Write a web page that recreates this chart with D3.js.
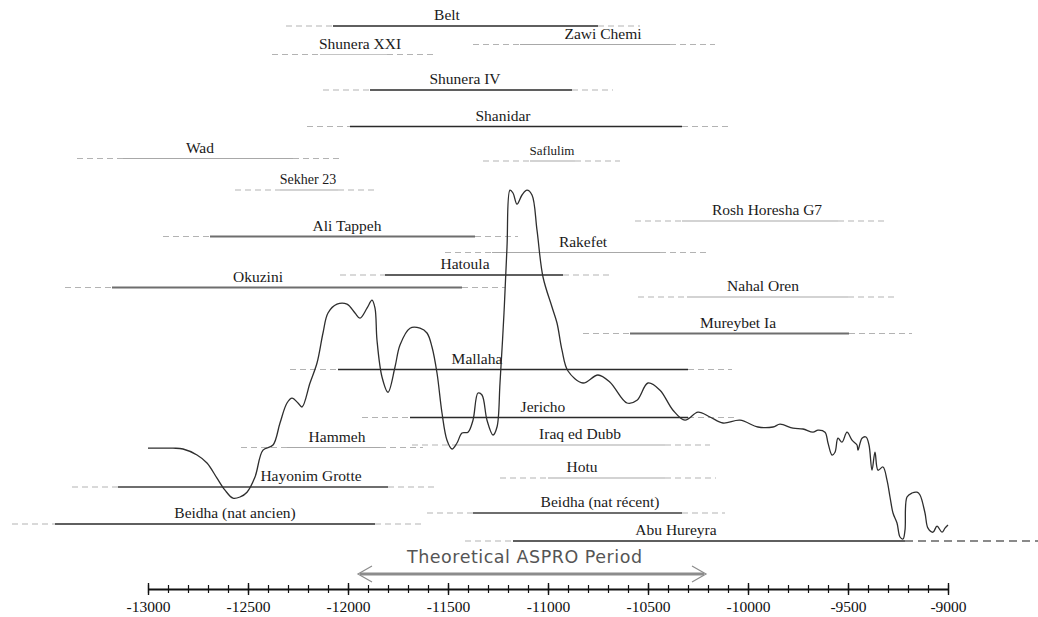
<!DOCTYPE html>
<html>
<head>
<meta charset="utf-8">
<script src="https://cdn.jsdelivr.net/npm/d3@7"></script>
<style>
  body { margin: 0; background: #fff; }
  .site-label { font-family: "Liberation Serif", "Times New Roman", serif; font-size: 15.5px; fill: #1a1a1a; }
  .period-label { font-family: "DejaVu Sans", sans-serif; font-size: 19px; fill: #555; }
</style>
</head>
<body>
<div id="chart"></div>
<script>
// Part 1: Data
// ==============================
// sites (years, negative = BC)
var siteNames = ["Belt", "Zawi Chemi", "Shunera XXI", "Shunera IV", "Shanidar", "Wad", "Saflulim",
  "Sekher 23", "Rosh Horesha G7", "Ali Tappeh", "Rakefet", "Hatoula", "Okuzini", "Nahal Oren",
  "Mureybet Ia", "Mallaha", "Jericho", "Iraq ed Dubb", "Hammeh", "Hotu", "Hayonim Grotte",
  "Beidha (nat récent)", "Beidha (nat ancien)", "Abu Hureyra"];
var outerStart = [-12310, -11375, -12380, -12125, -12205, -13355, -11325,
  -12565, -10565, -12925, -11515, -12040, -13415, -10550,
  -10825, -12290, -11930, -11680, -12535, -11240, -13380,
  -11605, -13680, -11415];
var innerStart = [-12075, -11140, -12140, -11890, -11990, -13125, -11090,
  -12340, -10330, -12690, -11280, -11815, -13180, -10305,
  -10590, -12050, -11690, -11455, -12305, -11000, -13150,
  -11375, -13465, -11175];
var innerEnd = [-10750, -10390, -11805, -10880, -10330, -12275, -10865,
  -12050, -9550, -11365, -10440, -10925, -11430, -9500,
  -9495, -10300, -10300, -10415, -11840, -10415, -11800,
  -10330, -11865, -9215];
var outerEnd = [-10540, -10165, -11565, -10675, -10100, -12040, -10640,
  -11850, -9315, -11150, -10205, -10690, -11215, -9265,
  -9180, -10080, -10065, -10190, -11625, -10160, -11565,
  -10115, -11630, -8550];

// climate curve (relative units)
var curveYears = [-13000, -12875, -12825, -12755, -12705, -12655, -12615, -12575, -12540, -12505,
  -12465, -12425, -12375, -12340, -12305, -12280, -12250, -12230, -12190, -12155,
  -12125, -12100, -12055, -12005, -11965, -11940, -11905, -11880, -11865, -11855,
  -11830, -11800, -11765, -11740, -11690, -11640, -11605, -11580, -11555, -11530,
  -11505, -11480, -11455, -11430, -11400, -11375, -11350, -11330, -11305, -11275,
  -11255, -11240, -11220, -11205, -11190, -11175, -11155, -11130, -11105, -11080,
  -11055, -11025, -10980, -10955, -10930, -10900, -10825, -10750, -10690, -10605,
  -10555, -10500, -10440, -10375, -10315, -10250, -10190, -10125, -10040, -9950,
  -9875, -9840, -9775, -9725, -9675, -9650, -9615, -9600, -9580, -9565,
  -9550, -9530, -9505, -9480, -9455, -9450, -9430, -9410, -9395, -9380,
  -9365, -9350, -9325, -9305, -9290, -9275, -9255, -9240, -9225, -9215,
  -9205, -9180, -9155, -9140, -9115, -9100, -9075, -9055, -9030, -9015, -9000];
var curveValues = [24.2, 24.2, 24, 22.5, 20.5, 16.7, 13.7, 11.7, 12, 13.2,
  17, 23.7, 25, 30.5, 35.5, 36.7, 35.5, 34.5, 40.5, 45.5,
  53, 58, 60.2, 60.2, 58, 56.7, 59.2, 61.2, 59.2, 51.2,
  42, 38.2, 44.5, 50, 54.2, 54.2, 53, 49.5, 43, 33,
  26.2, 24, 25.5, 28, 28.2, 31.2, 38, 37.5, 31.2, 27.5,
  29.5, 40.5, 58, 74.5, 88.7, 88, 85.2, 87.5, 88.7, 87.5,
  78.7, 67, 59.5, 55.5, 48.7, 43.5, 40.5, 42.5, 40.7, 35.5,
  36.2, 40.5, 38.7, 33.7, 31.2, 33.2, 32, 30.5, 31.2, 29.5,
  29.5, 30.2, 29.2, 29, 28.2, 28.7, 28.2, 25.5, 22.5, 23.2,
  26.7, 25.7, 28.2, 26.2, 25, 23.7, 26.7, 27, 25, 18.7,
  23.2, 18.7, 19.5, 16.2, 12, 8, 5.5, 2, 1.5, 3.7,
  12, 13, 13.2, 12.5, 8, 4.2, 3.2, 4.7, 3.2, 4.2, 5];

// theoretical period arrow
var periodStart = -11950;
var periodEnd = -10210;
var periodText = "Theoretical ASPRO Period";

// Part 2: Layout
// ==============================
var svgWidth = 1038;
var svgHeight = 617;

// vertical lane of each site, and year above which its name is written
var siteRow = [0.6, 2.45, 3.45, 7, 10.65, 13.85, 14.1,
  17, 20.1, 21.65, 23.25, 25.5, 26.75, 27.7,
  31.35, 34.95, 39.75, 42.5, 42.75, 45.8, 46.7,
  49.3, 50.4, 52.1];
var labelYear = [-11505, -10725, -11940, -11415, -11225, -12740, -10980,
  -12200, -9905, -12005, -10825, -11415, -12450, -9925,
  -10050, -11355, -11025, -10840, -12055, -10830, -12185,
  -10740, -12565, -10360];

// line tone per site
var tones = {
  dark: { stroke: "#2a2a2a", width: 1.3 },
  mid: { stroke: "#6e6e6e", width: 2 },
  light: { stroke: "#a8a8a8", width: 1.1 },
  faint: { stroke: "#c4c4c4", width: 1 }
};
var toneBySite = {
  "Belt": "dark", "Zawi Chemi": "light", "Shunera XXI": "faint", "Shunera IV": "dark",
  "Shanidar": "dark", "Wad": "light", "Saflulim": "light", "Sekher 23": "light",
  "Rosh Horesha G7": "light", "Ali Tappeh": "mid", "Rakefet": "light", "Hatoula": "dark",
  "Okuzini": "mid", "Nahal Oren": "light", "Mureybet Ia": "mid", "Mallaha": "dark",
  "Jericho": "dark", "Iraq ed Dubb": "light", "Hammeh": "light", "Hotu": "light",
  "Hayonim Grotte": "mid", "Beidha (nat récent)": "mid", "Beidha (nat ancien)": "dark",
  "Abu Hureyra": "dark"
};
var labelSize = { "Saflulim": 13, "Sekher 23": 14 };

var svg = d3.select("#chart")
  .append("svg")
  .attr("width", svgWidth)
  .attr("height", svgHeight);

// Part 3: Scales
// ==============================
var xScale = d3.scaleLinear().domain([-13000, -9000]).range([148, 948]);
var yCurve = d3.scaleLinear().domain([0, 90]).range([545, 185]);
var yRow = d3.scaleLinear().domain([0, 52]).range([20, 540]);

var sites = siteNames.map(function(name, i) {
  return {
    name: name,
    o0: outerStart[i], i0: innerStart[i], i1: innerEnd[i], o1: outerEnd[i],
    row: siteRow[i], labelAt: labelYear[i]
  };
});

// Part 4: Site ranges
// ==============================
var siteGroup = svg.append("g").attr("class", "sites");

var siteG = siteGroup.selectAll("g")
  .data(sites)
  .enter()
  .append("g");

// dashed outer parts (left and right)
siteG.append("line")
  .attr("x1", d => xScale(d.o0))
  .attr("x2", d => xScale(d.i0))
  .attr("y1", d => yRow(d.row))
  .attr("y2", d => yRow(d.row))
  .attr("stroke", "#b3b3b3")
  .attr("stroke-width", 1)
  .attr("stroke-dasharray", "6,4");

siteG.append("line")
  .attr("x1", d => xScale(d.i1))
  .attr("x2", d => xScale(d.o1))
  .attr("y1", d => yRow(d.row))
  .attr("y2", d => yRow(d.row))
  .attr("stroke", d => d.name === "Abu Hureyra" ? "#8a8a8a" : "#b3b3b3")
  .attr("stroke-width", d => d.name === "Abu Hureyra" ? 2 : 1)
  .attr("stroke-dasharray", d => d.name === "Abu Hureyra" ? "8,5" : "6,4");

// solid inner part
siteG.append("line")
  .attr("x1", d => xScale(d.i0))
  .attr("x2", d => xScale(d.i1))
  .attr("y1", d => yRow(d.row))
  .attr("y2", d => yRow(d.row))
  .attr("stroke", d => tones[toneBySite[d.name]].stroke)
  .attr("stroke-width", d => tones[toneBySite[d.name]].width);

siteG.append("text")
  .attr("class", "site-label")
  .attr("x", d => xScale(d.labelAt))
  .attr("y", d => yRow(d.row) - 6)
  .attr("text-anchor", "middle")
  .style("font-size", d => (labelSize[d.name] || 15.5) + "px")
  .text(d => d.name);

// Part 5: Climate curve
// ==============================
var curveData = curveYears.map((yr, i) => ({ year: yr, value: curveValues[i] }));

var line = d3.line()
  .x(d => xScale(d.year))
  .y(d => yCurve(d.value))
  .curve(d3.curveCatmullRom.alpha(0.5));

svg.append("path")
  .datum(curveData)
  .attr("d", line)
  .attr("fill", "none")
  .attr("stroke", "#2e2e2e")
  .attr("stroke-width", 1.3);

// Part 6: Period arrow
// ==============================
var arrowY = 574;
var arrowG = svg.append("g").attr("class", "period");
arrowG.append("line")
  .attr("x1", xScale(periodStart) + 2)
  .attr("x2", xScale(periodEnd) - 2)
  .attr("y1", arrowY)
  .attr("y2", arrowY)
  .attr("stroke", "#8c8c8c")
  .attr("stroke-width", 3);

[periodStart, periodEnd].forEach(function(yr, i) {
  var tip = xScale(yr);
  var dir = i === 0 ? 1 : -1;
  arrowG.append("path")
    .attr("d", `M${tip + dir * 14},${arrowY - 8} L${tip},${arrowY} L${tip + dir * 14},${arrowY + 8}`)
    .attr("fill", "none")
    .attr("stroke", "#8c8c8c")
    .attr("stroke-width", 1.2);
});

arrowG.append("text")
  .attr("class", "period-label")
  .attr("x", xScale(-11705))
  .attr("y", 563)
  .attr("textLength", 235)
  .attr("lengthAdjust", "spacing")
  .style("font-size", "17.5px")
  .text(periodText);

// Part 7: Axis
// ==============================
var axisY = 589;
var minorAxis = d3.axisBottom(xScale)
  .tickValues(d3.range(-13000, -8999, 100))
  .tickFormat("")
  .tickSizeOuter(0);
var majorAxis = d3.axisBottom(xScale)
  .tickValues(d3.range(-13000, -8999, 500))
  .tickFormat(d => String(d))
  .tickSizeOuter(0);

var minorG = svg.append("g")
  .attr("transform", `translate(0, ${axisY})`)
  .call(minorAxis);
minorG.selectAll(".tick line").attr("y1", -4).attr("y2", 4).attr("stroke", "#111").attr("stroke-width", 1.2);
minorG.select(".domain").attr("stroke", "#111").attr("stroke-width", 2);

var majorG = svg.append("g")
  .attr("transform", `translate(0, ${axisY})`)
  .call(majorAxis);
majorG.attr("font-family", null).attr("font-size", null);
majorG.select(".domain").remove();
majorG.selectAll(".tick line").attr("y1", -6).attr("y2", 6).attr("stroke", "#111").attr("stroke-width", 1.4);
majorG.selectAll(".tick text")
  .attr("y", 12)
  .attr("dy", "0.71em")
  .style("font-family", "'Liberation Serif', 'Times New Roman', serif")
  .style("font-size", "15.5px")
  .style("fill", "#111");
</script>
</body>
</html>
